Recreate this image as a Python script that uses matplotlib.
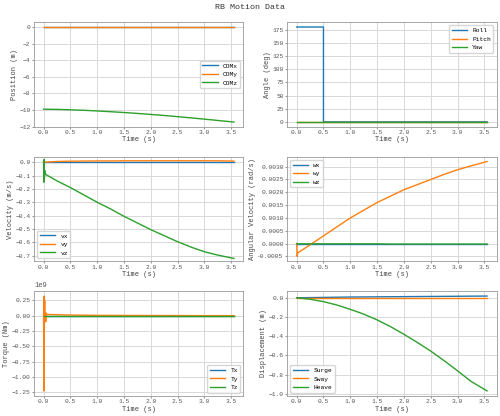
import matplotlib
matplotlib.use("Agg")
import matplotlib.pyplot as plt
import numpy as np
from matplotlib.ticker import FormatStrFormatter

plt.rcParams['font.family'] = ['Liberation Mono', 'DejaVu Sans']
plt.rcParams['font.size'] = 5
plt.rcParams['lines.linewidth'] = 1.0

t = [0.0, 0.25, 0.5, 0.75, 1.0, 1.25, 1.5, 1.75, 2.0, 2.25, 2.5, 2.75, 3.0, 3.25, 3.55]
com_x = [0.0]*15
com_y = [0.0]*15
com_z = [-9.9, -9.92, -9.97, -10.03, -10.11, -10.2, -10.3, -10.41, -10.53, -10.66, -10.8, -10.95, -11.1, -11.26, -11.45]

t_ang = [0.0, 0.5, 0.5001, 3.55]
roll = [180, 180, 0, 0]
pitch = [0, 0, 0, 0]
yaw = [0, 0, 0, 0]

t_v = [0.0, 0.005, 0.01, 0.015, 0.02, 0.03, 0.25, 0.5, 0.75, 1.0, 1.25, 1.5, 1.75, 2.0, 2.25, 2.5, 2.75, 3.0, 3.25, 3.55]
vx = [0.0]*20
vy = [0.0, 0.0, 0.0, 0.0, 0.0, 0.0, 0.005, 0.007, 0.008, 0.009, 0.009, 0.01, 0.01, 0.01, 0.01, 0.01, 0.01, 0.01, 0.01, 0.008]
vz = [0.0, -0.15, 0.02, -0.12, -0.06, -0.09, -0.14, -0.19, -0.245, -0.3, -0.35, -0.405, -0.455, -0.505, -0.55, -0.595, -0.635, -0.67, -0.695, -0.72]

t_w = [0.0, 0.01, 0.02, 0.03, 0.25, 0.5, 0.75, 1.0, 1.25, 1.5, 1.75, 2.0, 2.25, 2.5, 2.75, 3.0, 3.25, 3.55]
wx = [0.0]*18
wy = [0.0, -0.0005, -0.00035, -0.00035, -0.00005, 0.0003, 0.00065, 0.001, 0.0013, 0.0016, 0.00185, 0.0021, 0.0023, 0.0025, 0.0027, 0.00288, 0.00303, 0.0032]
wz = [0.0, 0.0, -0.00001, -0.00001, -0.00001, -0.00001, -0.00001, -0.00001, -0.00001, -0.00001, -0.00002, -0.00002, -0.00002, -0.00002, -0.00002, -0.00002, -0.00002, -0.00002]

t_T = [0.0, 0.005, 0.01, 0.015, 0.02, 0.025, 0.03, 0.04, 0.05, 0.06, 0.5, 1.0, 2.0, 3.0, 3.55]
Tx = [0.0]*15
Ty = [0.0, -1.23e9, 0.32e9, -0.1e9, 0.25e9, -0.1e9, 0.05e9, -0.1e9, 0.04e9, 0.02e9, 0.01e9, 0.005e9, 0.002e9, 0.0, 0.0]
Tz = [0.0]*15

surge = [0.0, 0.002, 0.004, 0.006, 0.008, 0.009, 0.01, 0.011, 0.012, 0.013, 0.014, 0.015, 0.016, 0.017, 0.018]
sway = [0.0]*15
heave = [0.0, -0.015, -0.04, -0.075, -0.12, -0.17, -0.23, -0.3, -0.38, -0.465, -0.555, -0.655, -0.76, -0.87, -0.97]

fig, axs = plt.subplots(3, 2, figsize=(5.0, 4.16), dpi=100)
fig.suptitle('RB Motion Data', fontsize=6, y=0.99, color='#333333')

def style(ax, ylabel, loc):
    ax.set_xlabel('Time (s)', fontsize=5, labelpad=1, color='#444444')
    ax.set_ylabel(ylabel, fontsize=5, labelpad=1, color='#444444')
    ax.grid(True, color='#d8d8d8', linewidth=0.7)
    ax.set_axisbelow(True)
    for s in ax.spines.values():
        s.set_color('#999999'); s.set_linewidth(0.6)
    ax.tick_params(labelsize=4.5, length=1.5, pad=1, color='#999999', labelcolor='#555555')
    ax.set_xticks(np.arange(0, 3.6, 0.5))
    ax.legend(loc=loc, fontsize=4.5, frameon=True, handlelength=2.5)

ax = axs[0, 0]
ax.plot(t, com_x, label='COMx'); ax.plot(t, com_y, label='COMy'); ax.plot(t, com_z, label='COMz')
ax.set_ylim(-12, 0.6)
style(ax, 'Position (m)', 'center right')

ax = axs[0, 1]
ax.plot(t_ang, roll, label='Roll'); ax.plot(t_ang, pitch, label='Pitch'); ax.plot(t_ang, yaw, label='Yaw')
ax.set_yticks(range(0, 176, 25))
style(ax, 'Angle (deg)', 'upper right')

ax = axs[1, 0]
ax.plot(t_v, vx, label='vx'); ax.plot(t_v, vy, label='vy'); ax.plot(t_v, vz, label='vz')
ax.set_ylim(-0.74, 0.04)
style(ax, 'Velocity (m/s)', 'lower left')

ax = axs[1, 1]
ax.plot(t_w, wx, label='wx'); ax.plot(t_w, wy, label='wy'); ax.plot(t_w, wz, label='wz')
ax.set_yticks(np.arange(-0.0005, 0.00301, 0.0005))
ax.yaxis.set_major_formatter(FormatStrFormatter('%.4f'))
style(ax, 'Angular Velocity (rad/s)', 'upper left')

ax = axs[2, 0]
ax.plot(t_T, Tx, label='Tx'); ax.plot(t_T, Ty, label='Ty'); ax.plot(t_T, Tz, label='Tz')
style(ax, 'Torque (Nm)', 'lower right')

ax = axs[2, 1]
ax.plot(t, surge, label='Surge'); ax.plot(t, sway, label='Sway'); ax.plot(t, heave, label='Heave')
style(ax, 'Displacement (m)', 'lower left')

fig.tight_layout(rect=(0, 0, 1, 0.98), pad=0.5, h_pad=0.6, w_pad=0.8)
fig.savefig('out.png', dpi=100)
